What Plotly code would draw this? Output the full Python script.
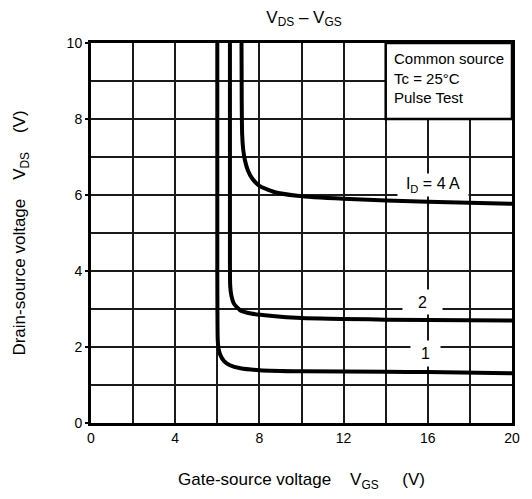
import plotly.graph_objects as go

# Data (VGS in V, VDS in V)
vgs_4a = [7.15, 7.16, 7.18, 7.23, 7.31, 7.45, 7.65, 8.0, 8.7, 9.8, 12.0, 16.0, 20.0]
vds_4a = [10.0, 8.5, 7.6, 7.2, 6.92, 6.65, 6.44, 6.24, 6.08, 5.98, 5.90, 5.82, 5.77]

vgs_2a = [6.60, 6.60, 6.61, 6.66, 6.80, 7.10, 7.60, 8.50, 10.0, 14.0, 20.0]
vds_2a = [10.0, 5.0, 3.65, 3.38, 3.13, 2.96, 2.88, 2.82, 2.76, 2.72, 2.70]

vgs_1a = [6.00, 6.00, 6.02, 6.06, 6.15, 6.32, 6.60, 7.10, 8.0, 10.0, 14.0, 16.0, 20.0]
vds_1a = [10.0, 4.0, 2.2, 1.95, 1.78, 1.63, 1.52, 1.44, 1.39, 1.36, 1.35, 1.34, 1.31]

x_ticks = [0, 4, 8, 12, 16, 20]
y_ticks = [0, 2, 4, 6, 8, 10]

FONT = "Liberation Sans, Arial, sans-serif"
fig = go.Figure()
for xs, ys in [(vgs_4a, vds_4a), (vgs_2a, vds_2a), (vgs_1a, vds_1a)]:
    fig.add_trace(go.Scatter(x=xs, y=ys, mode="lines",
                             line=dict(color="black", width=4, shape="spline", smoothing=0.5),
                             showlegend=False, hoverinfo="skip"))

grid = dict(showgrid=True, gridcolor="#1a1a1a", gridwidth=1.6)
fig.update_xaxes(range=[0, 20], tickvals=x_ticks, ticktext=[str(v) for v in x_ticks],
                 showline=True, linecolor="black", linewidth=3, mirror=True,
                 zeroline=False, ticks="", tickfont=dict(size=14, color="black"),
                 minor=dict(dtick=2, tick0=0, showgrid=True, gridcolor="#1a1a1a", gridwidth=1.6),
                 title=dict(text="Gate-source voltage\u00a0\u00a0\u00a0 V<sub>GS</sub>\u00a0\u00a0\u00a0\u00a0 (V)",
                            font=dict(size=17, color="black"), standoff=29),
                 **grid)
fig.update_yaxes(range=[0, 10], tickvals=y_ticks, ticktext=[str(v) for v in y_ticks],
                 showline=True, linecolor="black", linewidth=3, mirror=True,
                 zeroline=False, ticks="outside", ticklen=3, tickcolor="black", tickwidth=1.5,
                 tickfont=dict(size=14, color="black"),
                 minor=dict(dtick=1, tick0=0, showgrid=True, gridcolor="#1a1a1a", gridwidth=1.6),
                 title=dict(text="Drain-source voltage\u00a0\u00a0\u00a0 V<sub>DS</sub>\u00a0\u00a0\u00a0 (V)",
                            font=dict(size=17, color="black"), standoff=37),
                 **grid)

# Condition box
fig.add_shape(type="rect", xref="x", yref="y", x0=14, x1=20, y0=8, y1=10,
              fillcolor="white", line=dict(color="black", width=2.5), layer="above")
fig.add_annotation(x=14.3, y=9.87, xref="x", yref="y", xanchor="left", yanchor="top",
                   text="Common source<br>Tc = 25°C<br>Pulse Test", align="left",
                   showarrow=False, font=dict(size=15, color="black", family=FONT))

# Curve labels
labels = [("I<sub>D</sub> = 4 A", 16.24, 6.27, 70, 22),
          ("2", 15.77, 3.18, 39, 24),
          ("1", 15.87, 1.83, 29, 25)]
for txt, lx, ly, w, h in labels:
    fig.add_annotation(x=lx, y=ly, xref="x", yref="y", text=txt, showarrow=False,
                       bgcolor="white", width=w, height=h, borderpad=0,
                       font=dict(size=16, color="black", family=FONT))

fig.update_layout(
    width=532, height=499,
    margin=dict(l=91, r=15, t=43, b=73),
    paper_bgcolor="white", plot_bgcolor="white",
    font=dict(family=FONT, color="black"),
    title=dict(text="V<sub>DS</sub> – V<sub>GS</sub>", x=0.5714, xanchor="center",
               y=0.966, yanchor="middle", yref="container", font=dict(size=17, color="black")),
)

fig.write_html("out.html")
